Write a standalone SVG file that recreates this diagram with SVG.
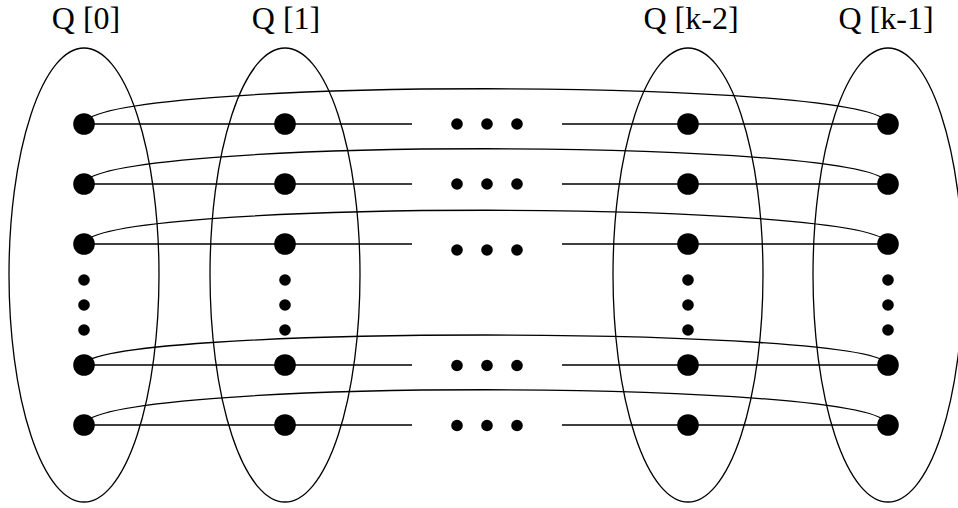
<svg xmlns="http://www.w3.org/2000/svg" width="958" height="508" viewBox="0 0 958 508">
<style>
.ell{fill:none;stroke:#000;stroke-width:1.3}
.ln{fill:none;stroke:#000;stroke-width:1.3}
.node{fill:#000}
.lbl{font-family:"Liberation Serif","Times New Roman",serif;font-size:32px;fill:#000;text-anchor:middle}
</style>
<rect width="958" height="508" fill="#fff"/>
<g id="connectors">
<path class="ln" d="M84,124 H412 M562,124 H888"/>
<path class="ln" d="M84,184 H412 M562,184 H888"/>
<path class="ln" d="M84,244 H412 M562,244 H888"/>
<path class="ln" d="M84,365 H412 M562,365 H888"/>
<path class="ln" d="M84,425 H412 M562,425 H888"/>
<path class="ln" d="M84,124 C92,77 880,77 888,124"/>
<path class="ln" d="M84,184 C92,137 880,137 888,184"/>
<path class="ln" d="M84,244 C92,199 880,199 888,244"/>
<path class="ln" d="M84,365 C92,325 880,325 888,365"/>
<path class="ln" d="M84,425 C92,378 880,378 888,425"/>
</g>
<g id="Q0">
<ellipse class="ell" cx="84" cy="275" rx="75" ry="227"/>
<text class="lbl" x="86" y="29">Q [0]</text>
<circle class="node" cx="84" cy="124" r="10.8"/>
<circle class="node" cx="84" cy="184" r="10.8"/>
<circle class="node" cx="84" cy="244" r="10.8"/>
<circle class="node" cx="84" cy="280" r="5.8"/>
<circle class="node" cx="84" cy="305" r="5.8"/>
<circle class="node" cx="84" cy="330" r="5.8"/>
<circle class="node" cx="84" cy="365" r="10.8"/>
<circle class="node" cx="84" cy="425" r="10.8"/>
</g>
<g id="Q1">
<ellipse class="ell" cx="285" cy="275" rx="75" ry="227"/>
<text class="lbl" x="286" y="29">Q [1]</text>
<circle class="node" cx="285" cy="124" r="10.8"/>
<circle class="node" cx="285" cy="184" r="10.8"/>
<circle class="node" cx="285" cy="244" r="10.8"/>
<circle class="node" cx="285" cy="280" r="5.8"/>
<circle class="node" cx="285" cy="305" r="5.8"/>
<circle class="node" cx="285" cy="330" r="5.8"/>
<circle class="node" cx="285" cy="365" r="10.8"/>
<circle class="node" cx="285" cy="425" r="10.8"/>
</g>
<g id="ellipsis">
<circle class="node" cx="457" cy="124" r="5.8"/>
<circle class="node" cx="487" cy="124" r="5.8"/>
<circle class="node" cx="517" cy="124" r="5.8"/>
<circle class="node" cx="457" cy="184" r="5.8"/>
<circle class="node" cx="487" cy="184" r="5.8"/>
<circle class="node" cx="517" cy="184" r="5.8"/>
<circle class="node" cx="457" cy="250" r="5.8"/>
<circle class="node" cx="487" cy="250" r="5.8"/>
<circle class="node" cx="517" cy="250" r="5.8"/>
<circle class="node" cx="457" cy="365.5" r="5.8"/>
<circle class="node" cx="487" cy="365.5" r="5.8"/>
<circle class="node" cx="517" cy="365.5" r="5.8"/>
<circle class="node" cx="457" cy="425.5" r="5.8"/>
<circle class="node" cx="487" cy="425.5" r="5.8"/>
<circle class="node" cx="517" cy="425.5" r="5.8"/>
</g>
<g id="Qk2">
<ellipse class="ell" cx="688" cy="275" rx="75" ry="227"/>
<text class="lbl" x="691" y="29">Q [k-2]</text>
<circle class="node" cx="688" cy="124" r="10.8"/>
<circle class="node" cx="688" cy="184" r="10.8"/>
<circle class="node" cx="688" cy="244" r="10.8"/>
<circle class="node" cx="688" cy="280" r="5.8"/>
<circle class="node" cx="688" cy="305" r="5.8"/>
<circle class="node" cx="688" cy="330" r="5.8"/>
<circle class="node" cx="688" cy="365" r="10.8"/>
<circle class="node" cx="688" cy="425" r="10.8"/>
</g>
<g id="Qk1">
<ellipse class="ell" cx="888" cy="275" rx="75" ry="227"/>
<text class="lbl" x="886" y="29">Q [k-1]</text>
<circle class="node" cx="888" cy="124" r="10.8"/>
<circle class="node" cx="888" cy="184" r="10.8"/>
<circle class="node" cx="888" cy="244" r="10.8"/>
<circle class="node" cx="888" cy="280" r="5.8"/>
<circle class="node" cx="888" cy="305" r="5.8"/>
<circle class="node" cx="888" cy="330" r="5.8"/>
<circle class="node" cx="888" cy="365" r="10.8"/>
<circle class="node" cx="888" cy="425" r="10.8"/>
</g>
</svg>
